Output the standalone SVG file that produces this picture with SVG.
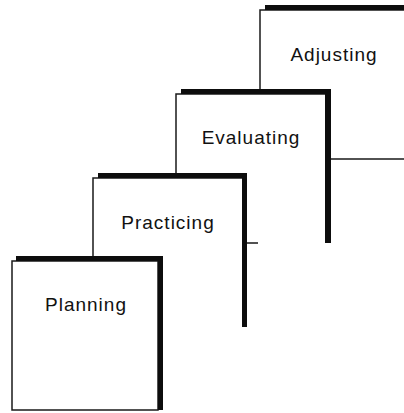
<svg xmlns="http://www.w3.org/2000/svg" width="404" height="413" viewBox="0 0 404 413">
  <style>
    .face { fill: #ffffff; }
    .edge { fill: none; stroke: #1a1a1a; stroke-width: 1.5; }
    .shadow { fill: #0d0d0d; }
    .label { font-family: "Liberation Sans", Arial, sans-serif; font-size: 19px; letter-spacing: 1px; fill: #111111; text-anchor: middle; }
  </style>
  <rect width="404" height="413" fill="#ffffff"/>

  <!-- cards are stacked back to front: each one overlaps the lower-left of the card behind it -->
  <g id="adjusting">
    <rect class="face" x="260" y="10" width="170" height="149"/>
    <path class="edge" d="M260 159 V10 H404 M331 159 H404"/>
    <path class="shadow" d="M265 5 H404 V10 H265 Z"/>
    <text class="label" x="334" y="61">Adjusting</text>
  </g>

  <g id="evaluating">
    <rect class="face" x="176" y="94" width="149" height="149"/>
    <path class="edge" d="M176 243 V94 H325 M247 243 H258"/>
    <path class="shadow" d="M181 89 H331 V243 H325 V94 H181 Z"/>
    <text class="label" x="251" y="144">Evaluating</text>
  </g>

  <g id="practicing">
    <rect class="face" x="93" y="178" width="149" height="149"/>
    <path class="edge" d="M93 327 V178 H242"/>
    <path class="shadow" d="M98 173 H247 V327 H242 V178 H98 Z"/>
    <text class="label" x="168" y="229">Practicing</text>
  </g>

  <g id="planning">
    <rect class="face" x="12" y="261" width="146" height="149"/>
    <path class="edge" d="M12 261 V410 H158 V261 Z"/>
    <path class="shadow" d="M16 256 H163 V410 H158 V261 H16 Z"/>
    <text class="label" x="86" y="311">Planning</text>
  </g>
</svg>
